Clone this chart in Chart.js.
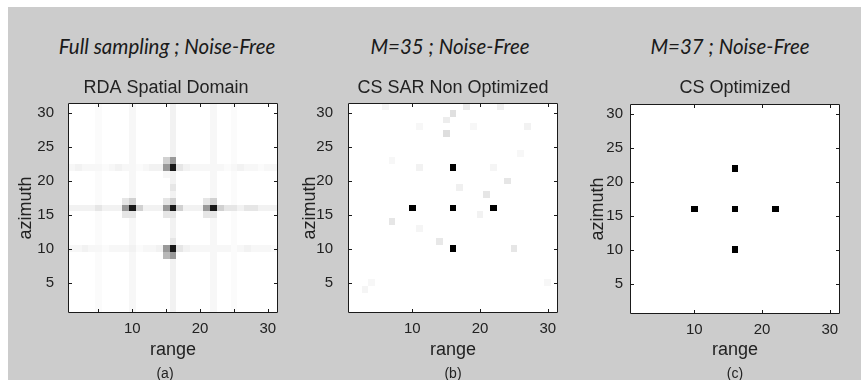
<!DOCTYPE html>
<html>
<head>
<meta charset="utf-8">
<script src="https://cdn.jsdelivr.net/npm/chart.js@4.4.0/dist/chart.umd.min.js"></script>
<style>
html,body{margin:0;padding:0;background:#ffffff;width:861px;height:380px;overflow:hidden;position:relative;}
#bg{position:absolute;left:8px;top:7px;width:853px;height:373px;background:#cccccc;}
canvas{position:absolute;top:0;}
.top{position:absolute;top:34px;font-family:Lato,"Open Sans",sans-serif;font-style:italic;font-size:20.5px;line-height:24px;color:#1a1a1a;white-space:nowrap;transform:translateX(-50%);}
.cap{position:absolute;top:366px;font-family:"Liberation Sans",Arial,sans-serif;font-size:14px;line-height:14px;color:#222;white-space:nowrap;transform:translateX(-50%);}
</style>
</head>
<body>
<div id="bg"></div>
<div class="top" style="left:167px">Full sampling ; Noise-Free</div>
<div class="top" style="left:450px">M=35 ; Noise-Free</div>
<div class="top" style="left:730px">M=37 ; Noise-Free</div>
<canvas id="ca" width="316" height="380" style="left:8px"></canvas>
<canvas id="cb" width="280" height="380" style="left:288px"></canvas>
<canvas id="cc" width="280" height="380" style="left:570px"></canvas>
<div class="cap" style="left:165px">(a)</div>
<div class="cap" style="left:453px">(b)</div>
<div class="cap" style="left:735px">(c)</div>
<script>
// ---------------- data ----------------
const axisMin = 0.5, axisMax = 31.5;           // 31 x 31 pixel images
const xTickValuesA = [5, 10, 15, 20, 25, 30];
const xTickValuesBC = [10, 20, 30];
const xTickLabels = [10, 20, 30];
const yTickValues = [5, 10, 15, 20, 25, 30];

const subTitles = ['RDA Spatial Domain', 'CS SAR Non Optimized', 'CS Optimized'];
const xAxisTitle = 'range';
const yAxisTitle = 'azimuth';

// darkness levels (0 = white, 1 = black) used by the character map of image (a)
const levelScale = {'0':0,'1':0.015,'2':0.03,'3':0.05,'4':0.1,'5':0.18,'6':0.28,'7':0.4,'8':0.6,'9':0.9};

// image (a): rows azimuth 31 -> 1, columns range 1 -> 31
const imageA = [
  '0000100002000003000002001000000', // 31
  '0000100002000003000002001000000', // 30
  '0000100002000003000002001000000', // 29
  '0000100002000003000002001000000', // 28
  '0000100002000003000002001000000', // 27
  '0000100002000003000002001000000', // 26
  '0000100002000003000002001000000', // 25
  '0000100002000003000002001000000', // 24
  '0000100002000057000002001000000', // 23
  '2322212322123379432222212322122', // 22
  '0000100002000023000002001000000', // 21
  '0000100002000003000002001000000', // 20
  '0000100002000004000002001000000', // 19
  '0000100002000003000002001000000', // 18
  '0000100045000045000045001000000', // 17
  '3333433379533379533379544344333', // 16
  '0000100044000044000044001000000', // 15
  '0000100002000003000002001000000', // 14
  '0000100002000003000002001000000', // 13
  '0000100002000003000002001000000', // 12
  '0000100002000004000002001000000', // 11
  '2232212223122379432222221232221', // 10
  '0000100002000067000002001000000', // 9
  '0000100002000003000002001000000', // 8
  '0000100002000003000002001000000', // 7
  '0000100002000003000002001000000', // 6
  '0000100002000003000002001000000', // 5
  '0000100002000003000002001000000', // 4
  '0000100002000003000002001000000', // 3
  '0000100002000003000002001000000', // 2
  '0000100002000003000002001000000'  // 1
];

// image (b): [range, azimuth, darkness]
const cellsB = [
  [6,31,0.04],[16,30,0.12],[18,31,0.08],[23,31,0.06],[15,29,0.07],[15,27,0.13],
  [11,28,0.03],[19,28,0.03],[27,28,0.05],[26,24,0.03],[7,23,0.03],[11,22,0.05],
  [22,22,0.04],[24,20,0.1],[17,19,0.06],[21,18,0.1],[20,15,0.05],[7,14,0.1],
  [11,13,0.04],[14,11,0.09],[25,10,0.1],[3,4,0.04],[4,5,0.03],[30,5,0.03],
  [16,22,1],[10,16,1],[16,16,1],[22,16,1],[16,10,1]
];

// image (c): [range, azimuth, darkness]
const cellsC = [
  [16,22,1],[10,16,1],[16,16,1],[22,16,1],[16,10,1]
];

// ---------------- build points ----------------
function pointsFromImage(rows) {
  const pts = [];
  rows.forEach((row, r) => {
    const az = rows.length - r;
    for (let c = 0; c < row.length; c++) {
      const v = levelScale[row[c]];
      if (v > 0) pts.push({x: c + 1, y: az, v: v});
    }
  });
  return pts;
}
function pointsFromCells(cells) {
  return cells.map(([x, y, v]) => ({x, y, v}));
}

// ---------------- plugin: pixel cells + MATLAB-like box with inward ticks ----------------
const imagePlugin = {
  id: 'imagePlugin',
  beforeDatasetsDraw(chart) {
    const {ctx, chartArea: a, scales: {x, y}} = chart;
    ctx.save();
    ctx.fillStyle = '#ffffff';
    ctx.fillRect(a.left, a.top, a.right - a.left, a.bottom - a.top);
    ctx.beginPath();
    ctx.rect(a.left, a.top, a.right - a.left, a.bottom - a.top);
    ctx.clip();
    chart.data.datasets[0].data.forEach(p => {
      const x0 = Math.round(x.getPixelForValue(p.x - 0.5));
      const x1 = Math.round(x.getPixelForValue(p.x + 0.5));
      const y0 = Math.round(y.getPixelForValue(p.y + 0.5));
      const y1 = Math.round(y.getPixelForValue(p.y - 0.5));
      const g = Math.round(255 * (1 - p.v));
      ctx.fillStyle = 'rgb(' + g + ',' + g + ',' + g + ')';
      ctx.fillRect(x0, y0, x1 - x0, y1 - y0);
    });
    ctx.restore();
  },
  afterDatasetsDraw(chart) {
    const {ctx, chartArea: a, scales: {x, y}} = chart;
    const tl = 4;
    ctx.save();
    ctx.strokeStyle = '#1a1a1a';
    ctx.lineWidth = 1;
    ctx.beginPath();
    ctx.rect(a.left + 0.5, a.top + 0.5, a.right - a.left - 1, a.bottom - a.top - 1);
    x.ticks.forEach(t => {
      const px = Math.round(x.getPixelForValue(t.value)) + 0.5;
      ctx.moveTo(px, a.bottom); ctx.lineTo(px, a.bottom - tl);
      ctx.moveTo(px, a.top); ctx.lineTo(px, a.top + tl);
    });
    y.ticks.forEach(t => {
      const py = Math.round(y.getPixelForValue(t.value)) + 0.5;
      ctx.moveTo(a.left, py); ctx.lineTo(a.left + tl, py);
      ctx.moveTo(a.right, py); ctx.lineTo(a.right - tl, py);
    });
    ctx.stroke();
    ctx.restore();
  }
};

const FONT = "'Liberation Sans', Arial, sans-serif";
const TXT = '#222222';

function makePanel(id, points, cfg) {
  const scales = {
    x: {
      type: 'linear', min: axisMin, max: axisMax,
      afterBuildTicks: s => { s.ticks = cfg.xTicks.map(v => ({value: v})); },
      afterFit: s => { s.height = cfg.xAxisHeight; },
      grid: {display: false, drawTicks: false},
      border: {display: false},
      ticks: {
        font: {family: FONT, size: 15}, color: TXT, padding: 7, maxRotation: 0, autoSkip: false,
        callback: v => xTickLabels.includes(v) ? String(v) : ''
      },
      title: {display: true, text: xAxisTitle, font: {family: FONT, size: 18}, color: TXT,
              padding: {top: 0, bottom: 19}}
    },
    y: {
      type: 'linear', min: axisMin, max: axisMax,
      afterBuildTicks: s => { s.ticks = yTickValues.map(v => ({value: v})); },
      afterFit: s => { s.width = 60; },
      grid: {display: false, drawTicks: false},
      border: {display: false},
      ticks: {font: {family: FONT, size: 15}, color: TXT, padding: cfg.yPad, autoSkip: false,
              callback: v => String(v)},
      title: {display: true, text: yAxisTitle, font: {family: FONT, size: 18}, color: TXT,
              padding: {top: cfg.yTitlePad, bottom: 0}}
    }
  };
  if (cfg.rightSpace) {
    scales.y2 = {
      type: 'linear', position: 'right', display: true,
      grid: {display: false, drawTicks: false}, border: {display: false},
      ticks: {display: false},
      afterFit: s => { s.width = cfg.rightSpace; }
    };
  }
  return new Chart(document.getElementById(id), {
    type: 'scatter',
    data: {datasets: [{data: points, pointRadius: 0, pointHoverRadius: 0}]},
    options: {
      responsive: false, animation: false, devicePixelRatio: 1,
      layout: {padding: {top: 77, left: 0, right: cfg.padRight, bottom: 0}},
      plugins: {
        legend: {display: false}, tooltip: {enabled: false},
        title: {display: true, text: cfg.title, fullSize: cfg.fullSize,
                font: {family: FONT, size: 18, weight: 'normal'}, color: TXT,
                padding: {top: 0, bottom: cfg.titleGap}}
      },
      scales: scales
    },
    plugins: [imagePlugin]
  });
}

makePanel('ca', pointsFromImage(imageA), {
  title: subTitles[0], xTicks: xTickValuesA, xAxisHeight: 67, yPad: 14, yTitlePad: 7,
  padRight: 0, rightSpace: 46, fullSize: true, titleGap: 4.4
});
makePanel('cb', pointsFromCells(cellsB), {
  title: subTitles[1], xTicks: xTickValuesBC, xAxisHeight: 67, yPad: 15, yTitlePad: 11,
  padRight: 10, rightSpace: 0, fullSize: false, titleGap: 4.4
});
makePanel('cc', pointsFromCells(cellsC), {
  title: subTitles[2], xTicks: xTickValuesBC, xAxisHeight: 66, yPad: 7, yTitlePad: 17,
  padRight: 10, rightSpace: 0, fullSize: false, titleGap: 5.4
});
</script>
</body>
</html>
